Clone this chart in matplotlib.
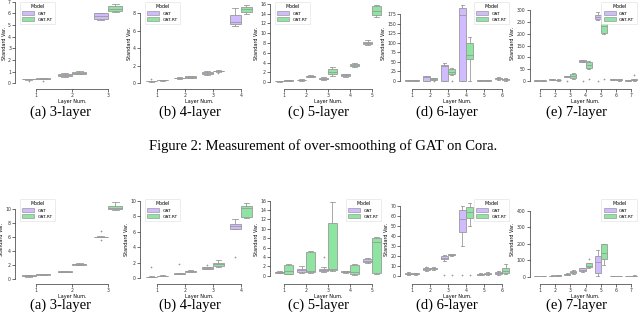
import numpy as np
import matplotlib.pyplot as plt
from matplotlib.patches import Patch

models = ["GAT", "GAT-RT"]
colors = ["#d0bbff", "#8de5a1"]
line = "#9a9a9a"

# box stats per layer: (whisker low, q1, median, q3, whisker high)
# Figure 2: GAT on Cora
cora3_gat = [(0.30, 0.33, 0.35, 0.38, 0.40), (0.55, 0.62, 0.70, 0.82, 0.88), (5.4, 5.5, 5.75, 6.0, 6.05)]
cora3_rt = [(0.35, 0.38, 0.40, 0.43, 0.48), (0.78, 0.82, 0.88, 0.95, 1.02), (6.1, 6.2, 6.4, 6.6, 6.8)]
cora3_fl = ({0: [0.2]}, {0: [0.22]})

cora4_gat = [(0.2, 0.22, 0.25, 0.28, 0.3), (0.5, 0.55, 0.6, 0.65, 0.7), (1.0, 1.05, 1.15, 1.3, 1.4), (6.55, 6.8, 7.0, 7.8, 8.55)]
cora4_rt = [(0.3, 0.32, 0.35, 0.38, 0.4), (0.6, 0.62, 0.7, 0.8, 0.85), (1.3, 1.35, 1.4, 1.45, 1.5), (7.9, 8.2, 8.45, 8.7, 9.0)]
cora4_fl = ({0: [0.45]}, {2: [1.2]})

cora5_gat = [(0.1, 0.15, 0.2, 0.25, 0.3), (0.3, 0.35, 0.4, 0.5, 0.55), (0.4, 0.6, 0.7, 0.9, 1.1), (1.1, 1.3, 1.4, 1.55, 1.7), (7.6, 7.8, 8.0, 8.3, 8.6)]
cora5_rt = [(0.25, 0.3, 0.35, 0.4, 0.5), (1.0, 1.1, 1.2, 1.3, 1.4), (1.2, 1.6, 2.1, 2.6, 3.1), (3.1, 3.2, 3.45, 3.7, 3.8), (13.3, 13.8, 14.6, 15.5, 15.8)]
cora5_fl = ({}, {})

cora6_gat = [(0.5, 1, 1.5, 2, 3), (0.5, 1, 11, 13, 13.5), (0, 0.5, 40, 43, 47), (0, 0.5, 173, 192, 198), (0.5, 1, 1.5, 2, 2.5), (3, 5, 7, 9, 10)]
cora6_rt = [(0.5, 1, 1.5, 2, 3), (2.5, 3, 5, 7, 8), (15, 17, 24, 31, 33), (0, 57, 69, 98, 115), (0.5, 1, 1.5, 2, 2.5), (1, 2, 4, 6, 7)]
cora6_fl = ({}, {1: [0], 2: [0]})

cora7_gat = [(0.5, 1, 2, 3, 4), (4, 6, 8, 9, 10), (18, 19, 20, 21, 22), (80, 82, 85, 88, 90), (258, 262, 270, 280, 293), (3, 5, 7, 9, 10), (1, 2, 3, 4, 5)]
cora7_rt = [(0.5, 1, 2, 3, 3.5), (2, 3, 5, 6, 7), (10, 13, 20, 28, 32), (50, 55, 68, 80, 86), (200, 202, 232, 262, 314), (2, 3, 5, 8, 10), (2, 3, 5, 7, 9)]
cora7_fl = ({2: [0], 3: [0], 4: [1]}, {3: [8], 4: [10], 6: [25]})

# second figure (bottom row)
cite3_gat = [(0.3, 0.35, 0.4, 0.45, 0.5), (0.9, 0.95, 1.0, 1.05, 1.1), (5.95, 5.98, 6.0, 6.02, 6.05)]
cite3_rt = [(0.5, 0.55, 0.6, 0.65, 0.7), (1.9, 2.0, 2.1, 2.15, 2.2), (9.8, 9.9, 10.1, 10.4, 10.95)]
cite3_fl = ({2: [6.75, 5.5]}, {})

cite4_gat = [(0.15, 0.18, 0.2, 0.22, 0.25), (0.5, 0.55, 0.6, 0.65, 0.7), (1.2, 1.25, 1.3, 1.4, 1.5), (6.3, 6.4, 6.7, 7.0, 7.6)]
cite4_rt = [(0.25, 0.28, 0.3, 0.35, 0.4), (0.75, 0.8, 0.9, 1.0, 1.1), (1.5, 1.6, 1.85, 2.0, 2.3), (7.8, 7.9, 9.1, 9.25, 9.75)]
cite4_fl = ({0: [1.5], 1: [1.9], 2: [1.65], 3: [2.8]}, {})

cite5_gat = [(0.5, 0.6, 0.8, 0.9, 1.0), (0.6, 0.8, 1.2, 1.5, 2.0), (0.8, 1.0, 1.3, 1.5, 1.8), (0.5, 0.7, 0.9, 1.0, 1.1), (2.8, 3.0, 3.2, 3.5, 3.8)]
cite5_rt = [(0.3, 0.4, 1.0, 2.3, 2.4), (0.5, 0.7, 1.0, 5.0, 5.2), (1.0, 1.2, 1.5, 11.2, 15.6), (0.2, 0.3, 0.8, 2.3, 2.4), (0.3, 0.5, 7.1, 8.1, 8.3)]
cite5_fl = ({2: [4.0]}, {})

cite6_gat = [(1, 1.5, 2, 3, 3.5), (5, 6, 7, 8, 8.5), (15, 16.5, 18, 20, 21), (30, 44, 57, 66, 70), (0.5, 1, 1.5, 2, 2.5), (1, 2, 3, 4, 5)]
cite6_rt = [(1, 1.5, 2, 2.5, 3), (6, 7, 7.5, 8, 8.5), (20, 20.5, 21, 21.5, 22), (50, 58, 63.5, 69, 73), (1, 1.5, 2, 3, 3.5), (2, 3, 5, 8, 12)]
cite6_fl = ({1: [9], 2: [0.5], 3: [0.5]}, {2: [0.5], 3: [0.5]})

cite7_gat = [(1, 1.5, 2, 2.5, 3), (3, 4, 5, 6, 7), (10, 12, 15, 18, 20), (30, 35, 40, 50, 55), (5, 20, 92, 125, 165), (2, 3, 4, 5, 6), (1, 2, 3, 4, 5)]
cite7_rt = [(2, 3, 4, 5, 6), (5, 6, 8, 10, 12), (18, 22, 25, 32, 38), (50, 58, 65, 80, 85), (68, 110, 146, 201, 201), (2, 3, 4, 5, 6), (3, 4, 5, 6, 7)]
cite7_fl = ({}, {3: [110], 4: [445]})

captions = ["(a) 3-layer", "(b) 4-layer", "(c) 5-layer", "(d) 6-layer", "(e) 7-layer"]

top_panels = [
    (cora3_gat, cora3_rt, cora3_fl, np.arange(0, 8, 1), (-0.23, 7.15), "upper left"),
    (cora4_gat, cora4_rt, cora4_fl, np.arange(0, 9, 2), (-0.31, 9.52), "upper left"),
    (cora5_gat, cora5_rt, cora5_fl, np.arange(0, 17, 2), (-0.82, 16.82), "upper left"),
    (cora6_gat, cora6_rt, cora6_fl, np.arange(0, 176, 25), (-13.1, 211.6), "upper right"),
    (cora7_gat, cora7_rt, cora7_fl, np.arange(0, 301, 50), (-21.1, 342.3), "upper right"),
]
bottom_panels = [
    (cite3_gat, cite3_rt, cite3_fl, np.arange(0, 11, 2), (-0.34, 11.68), "upper left"),
    (cite4_gat, cite4_rt, cite4_fl, np.arange(0, 11, 2), (-0.35, 10.47), "upper left"),
    (cite5_gat, cite5_rt, cite5_fl, np.arange(0, 17, 2), (-1.12, 16.77), "upper right"),
    (cite6_gat, cite6_rt, cite6_fl, np.arange(0, 71, 10), (-5.26, 78.5), "upper right"),
    (cite7_gat, cite7_rt, cite7_fl, np.arange(0, 401, 100), (-26.8, 485), "upper right"),
]

W, H = 640, 317
col_left = [18, 143, 273, 403, 532.3]
col_width = [108, 111.7, 110, 108, 106.5]
rows = [(0, 86), (197, 281)]
cap_x = [61, 190, 318, 447, 577]
cap_y = [112, 305]


def draw_panel(ax, gat, rt, fl, yticks, ylim, loc):
    n = len(gat)
    for k, stats in enumerate([gat, rt]):
        bxs = []
        for i, s in enumerate(stats):
            bxs.append(dict(whislo=s[0], q1=s[1], med=s[2], q3=s[3], whishi=s[4],
                            fliers=fl[k].get(i, [])))
        pos = np.arange(n) + (-0.2 if k == 0 else 0.2)
        ax.bxp(bxs, positions=pos, widths=0.4, patch_artist=True, manage_ticks=False,
               boxprops=dict(facecolor=colors[k], edgecolor=line, linewidth=0.6),
               medianprops=dict(color=line, linewidth=0.6),
               whiskerprops=dict(color=line, linewidth=0.6),
               capprops=dict(color=line, linewidth=0.6),
               flierprops=dict(marker="+", markersize=2, markeredgecolor=line, markeredgewidth=0.5))
    ax.set_xlim(-0.5, n - 0.5)
    ax.set_ylim(*ylim)
    ax.set_xticks(np.arange(n))
    ax.set_xticklabels([str(i + 1) for i in range(n)])
    ax.set_yticks(yticks)
    ax.set_yticklabels([str(t) for t in yticks])
    for side in ["top", "right"]:
        ax.spines[side].set_visible(False)
    ax.spines["left"].set_position(("outward", 2))
    ax.spines["bottom"].set_position(("outward", 2))
    ax.spines["left"].set_bounds(yticks[0], yticks[-1])
    ax.spines["bottom"].set_bounds(0, n - 1)
    for sp in ["left", "bottom"]:
        ax.spines[sp].set_linewidth(0.5)
        ax.spines[sp].set_color("#333333")
    ax.tick_params(labelsize=3.3, length=2, width=0.5, pad=1, colors="#333333")
    ax.set_xlabel("Layer Num.", fontsize=3.5, labelpad=1)
    ax.set_ylabel("Standard Var.", fontsize=3.5, labelpad=0.8)
    ax.patch.set_alpha(0)
    handles = [Patch(facecolor=colors[k], edgecolor=line, linewidth=0.5, label=models[k]) for k in range(2)]
    leg = ax.legend(handles=handles, title="Model", loc=loc, fontsize=3.2, title_fontsize=3.4,
                    handlelength=2.6, handleheight=0.9, borderpad=0.6, labelspacing=0.4,
                    borderaxespad=0.4, framealpha=1, edgecolor="#dddddd", fancybox=True)
    leg.get_frame().set_linewidth(0.4)


fig = plt.figure(figsize=(6.4, 3.17), dpi=100)
for r, panels in enumerate([top_panels, bottom_panels]):
    T, B = rows[r]
    for c, p in enumerate(panels):
        ax = fig.add_axes([col_left[c] / W, 1 - B / H, col_width[c] / W, (B - T) / H])
        draw_panel(ax, *p)
        fig.text(cap_x[c] / W, 1 - cap_y[r] / H, captions[c], ha="center", va="center",
                 family="Liberation Serif", fontsize=10.5)

fig.text(323 / W, 1 - 146 / H, "Figure 2: Measurement of over-smoothing of GAT on Cora.",
         ha="center", va="center", family="Liberation Serif", fontsize=10.5)

fig.savefig("out.png", dpi=100)
